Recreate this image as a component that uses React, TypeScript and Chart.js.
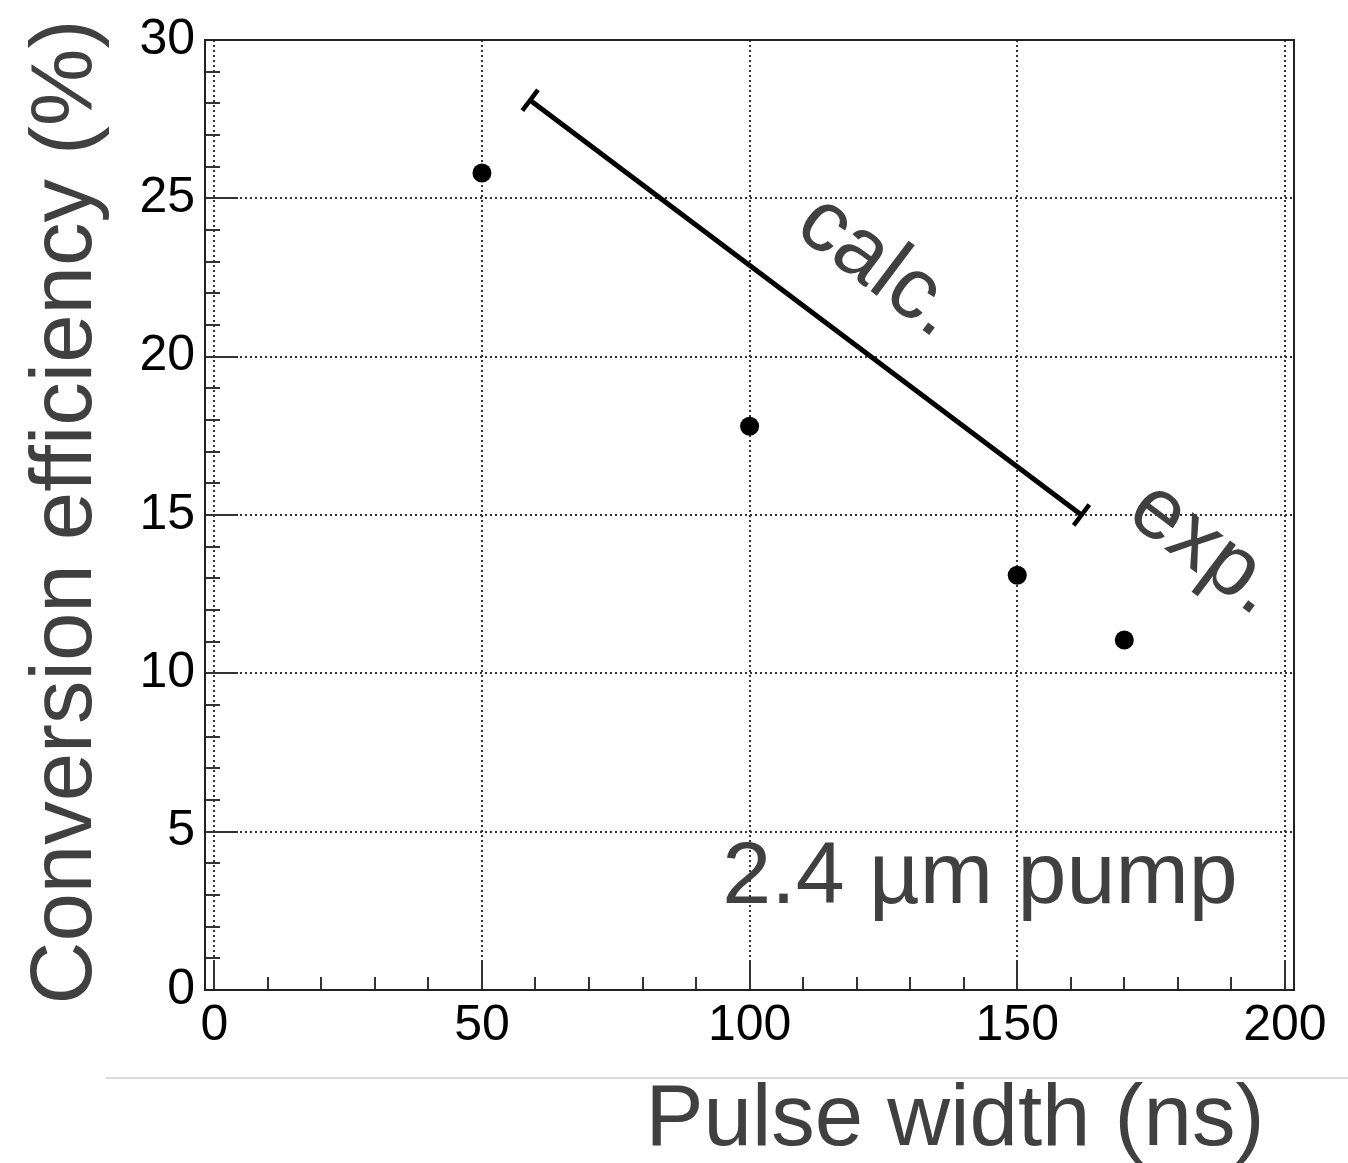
import React, { useEffect, useRef } from "react";
import { Chart, registerables } from "chart.js";

Chart.register(...registerables);

// ---- data ----
const pulseWidthNs = [50, 100, 150, 170];
const efficiencyPct = [25.8, 17.8, 13.1, 11.05];
const calcPulseWidthNs = [59, 162];
const calcEfficiencyPct = [28.1, 15.0];
const xTickValues = [0, 50, 100, 150, 200];
const yTickValues = [0, 5, 10, 15, 20, 25, 30];
const xMinorTicks = [0, 10, 20, 30, 40, 50, 60, 70, 80, 90, 100, 110, 120, 130, 140, 150, 160, 170, 180, 190, 200];
const yMinorTicks = [0, 1, 2, 3, 4, 5, 6, 7, 8, 9, 10, 11, 12, 13, 14, 15, 16, 17, 18, 19, 20, 21, 22, 23, 24, 25, 26, 27, 28, 29, 30];
const xRange = [-1.74, 201.7];
const yRange = [0, 30];
const xTitle = "Pulse width (ns)";
const yTitle = "Conversion efficiency (%)";
const calcLabel = "calc.";
const expLabel = "exp.";
const pumpLabel = "2.4 µm pump";

const FONT = "'Liberation Sans', Arial, Helvetica, sans-serif";
const TEXT_GRAY = "#404040";

const decorPlugin = {
  id: "decor",
  afterDraw(chart: any) {
    const ctx = chart.ctx;
    const { left, right, top, bottom } = chart.chartArea;
    const xs = chart.scales.x;
    const ys = chart.scales.y;
    ctx.save();
    // ticks
    ctx.strokeStyle = "#333";
    ctx.lineWidth = 2;
    ctx.beginPath();
    yMinorTicks.forEach((v) => {
      const p = Math.round(ys.getPixelForValue(v));
      const len = v % 5 === 0 ? 33 : 15;
      ctx.moveTo(left, p);
      ctx.lineTo(left + len, p);
    });
    xMinorTicks.forEach((v) => {
      const p = Math.round(xs.getPixelForValue(v));
      const len = v % 50 === 0 ? 30 : 13;
      ctx.moveTo(p, bottom);
      ctx.lineTo(p, bottom - len);
    });
    ctx.stroke();
    // frame
    ctx.strokeStyle = "#222";
    ctx.lineWidth = 2;
    ctx.strokeRect(left, top, right - left, bottom - top);

    // separator line
    ctx.strokeStyle = "#cccccc";
    ctx.lineWidth = 1.5;
    ctx.beginPath();
    ctx.moveTo(106, 1078);
    ctx.lineTo(1348, 1078);
    ctx.stroke();

    ctx.fillStyle = TEXT_GRAY;
    ctx.textBaseline = "alphabetic";
    ctx.textAlign = "center";

    // y title
    ctx.save();
    ctx.font = `87px ${FONT}`;
    ctx.translate(91, 512);
    ctx.rotate(-Math.PI / 2);
    ctx.fillText(yTitle, 0, 0);
    ctx.restore();

    // x title
    ctx.font = `87px ${FONT}`;
    ctx.fillText(xTitle, 955, 1145);

    // pump label
    ctx.font = `88px ${FONT}`;
    ctx.fillText(pumpLabel, 980, 903);

    const ang = (37 * Math.PI) / 180;
    // calc label
    ctx.save();
    ctx.font = `87px ${FONT}`;
    ctx.translate(864, 286);
    ctx.rotate(ang);
    ctx.fillText(calcLabel, 0, 0);
    ctx.restore();

    // exp label
    ctx.save();
    ctx.font = `87px ${FONT}`;
    ctx.translate(1190, 568);
    ctx.rotate(ang);
    ctx.fillText(expLabel, 0, 0);
    ctx.restore();

    ctx.restore();
  },
};

export default function App() {
  const ref = useRef<HTMLCanvasElement | null>(null);
  useEffect(() => {
    if (!ref.current) return;
    const chart = new Chart(ref.current, {
      type: "scatter",
      data: {
        datasets: [
          {
            type: "line",
            label: "calc.",
            data: calcPulseWidthNs.map((x, i) => ({ x, y: calcEfficiencyPct[i] })),
            borderColor: "#000",
            borderWidth: 5,
            pointStyle: "line",
            pointRadius: 13,
            pointRotation: 127,
            pointBorderWidth: 4.5,
            pointBorderColor: "#000",
            pointBackgroundColor: "#000",
            fill: false,
            tension: 0,
          } as any,
          {
            type: "scatter",
            label: "exp.",
            data: pulseWidthNs.map((x, i) => ({ x, y: efficiencyPct[i] })),
            backgroundColor: "#000",
            borderColor: "#000",
            borderWidth: 0,
            pointRadius: 9.5,
          },
        ],
      },
      options: {
        animation: false,
        responsive: false,
        devicePixelRatio: 1,
        layout: { padding: { top: 38, right: 54, left: 0, bottom: 0 } },
        plugins: { legend: { display: false }, tooltip: { enabled: false } },
        scales: {
          x: {
            type: "linear",
            min: xRange[0],
            max: xRange[1],
            afterBuildTicks: (s: any) => {
              s.ticks = xTickValues.map((v) => ({ value: v }));
            },
            afterFit: (s: any) => {
              s.height = 173;
            },
            grid: { color: "#333", lineWidth: 2, drawTicks: false },
            border: { display: false, dash: [2, 3] },
            ticks: {
              color: "#000",
              font: { family: FONT, size: 50, lineHeight: 1.2 },
              padding: 6,
              maxRotation: 0,
              autoSkip: false,
            },
          },
          y: {
            type: "linear",
            min: yRange[0],
            max: yRange[1],
            afterBuildTicks: (s: any) => {
              s.ticks = yTickValues.map((v) => ({ value: v }));
            },
            afterFit: (s: any) => {
              s.width = 205;
            },
            grid: { color: "#333", lineWidth: 2, drawTicks: false },
            border: { display: false, dash: [2, 3] },
            ticks: {
              color: "#000",
              font: { family: FONT, size: 50, lineHeight: 1.2 },
              padding: 10,
              autoSkip: false,
            },
          },
        },
      },
      plugins: [decorPlugin],
    });
    return () => chart.destroy();
  }, []);
  return (
    <div style={{ position: "absolute", left: 0, top: 0, width: 1348, height: 1163, background: "#fff" }}>
      <canvas ref={ref} width={1348} height={1163} style={{ width: 1348, height: 1163, display: "block" }} />
    </div>
  );
}
